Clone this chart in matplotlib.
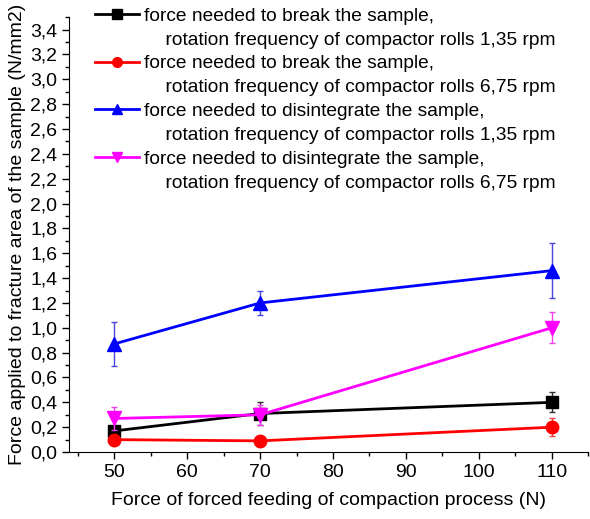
import numpy as np
import matplotlib
matplotlib.use('Agg')
import matplotlib.pyplot as plt
from matplotlib.lines import Line2D
from matplotlib.ticker import MultipleLocator, FuncFormatter

plt.rcParams['font.family'] = ['Liberation Sans', 'DejaVu Sans']

# data
feed_force = [50, 70, 110]
break_135 = [0.17, 0.31, 0.40]
break_135_err = [0.03, 0.09, 0.08]
break_675 = [0.10, 0.09, 0.20]
break_675_err = [0.04, 0.04, 0.07]
disint_135 = [0.87, 1.20, 1.46]
disint_135_err = [0.175, 0.10, 0.22]
disint_675 = [0.27, 0.30, 1.00]
disint_675_err = [0.09, 0.08, 0.125]

first_lines = [
    'force needed to break the sample,',
    'force needed to break the sample,',
    'force needed to disintegrate the sample,',
    'force needed to disintegrate the sample,',
]
second_lines = [
    '    rotation frequency of compactor rolls 1,35 rpm',
    '    rotation frequency of compactor rolls 6,75 rpm',
    '    rotation frequency of compactor rolls 1,35 rpm',
    '    rotation frequency of compactor rolls 6,75 rpm',
]
colors = ['black', 'red', 'blue', 'magenta']
err_colors = ['#303030', '#f04040', '#4848e0', '#f040f0']
markers = ['s', 'o', '^', 'v']
msizes = [8.5, 9, 10, 10]
series = [(break_135, break_135_err), (break_675, break_675_err),
          (disint_135, disint_135_err), (disint_675, disint_675_err)]

fig = plt.figure(figsize=(5.9, 5.19), dpi=100)
ax = fig.add_axes([0.117, 0.129, 0.88, 0.838])

for (vals, errs), col, ecol, mk, ms in zip(series, colors, err_colors, markers, msizes):
    ax.errorbar(feed_force, vals, yerr=errs, fmt='none', ecolor=ecol,
                elinewidth=1, capsize=2.5, capthick=1)
    ax.plot(feed_force, vals, color=col, marker=mk, markersize=ms, linewidth=2)

ax.set_xlim(43.8, 115)
ax.set_ylim(0, 3.5)
ax.xaxis.set_major_locator(MultipleLocator(10))
ax.xaxis.set_minor_locator(MultipleLocator(5))
ax.yaxis.set_major_locator(MultipleLocator(0.2))
ax.yaxis.set_minor_locator(MultipleLocator(0.1))
ax.yaxis.set_major_formatter(FuncFormatter(lambda v, p: ('%.1f' % v).replace('.', ',')))
ax.tick_params(which='major', direction='out', length=5, width=1, labelsize=14)
ax.tick_params(which='minor', direction='out', length=3, width=1)
ax.spines['top'].set_visible(False)
ax.spines['right'].set_visible(False)

ax.set_xlabel('Force of forced feeding of compaction process (N)', fontsize=14, labelpad=8)
ax.set_ylabel('Force applied to fracture area of the sample (N/mm2)', fontsize=14, labelpad=3)

handles = []
texts = []
for col, mk, l1, l2 in zip(colors, markers, first_lines, second_lines):
    handles.append(Line2D([0], [0], color=col, marker=mk, markersize=7, linewidth=2))
    texts.append(l1)
    handles.append(Line2D([], [], linestyle='none'))
    texts.append(l2)

ax.legend(handles, texts, loc='upper left', bbox_to_anchor=(0.035, 1.04), frameon=False,
          fontsize=13.8, handlelength=2.3, handletextpad=0.25, labelspacing=0.335,
          borderaxespad=0)

fig.savefig('out.png', dpi=100)
